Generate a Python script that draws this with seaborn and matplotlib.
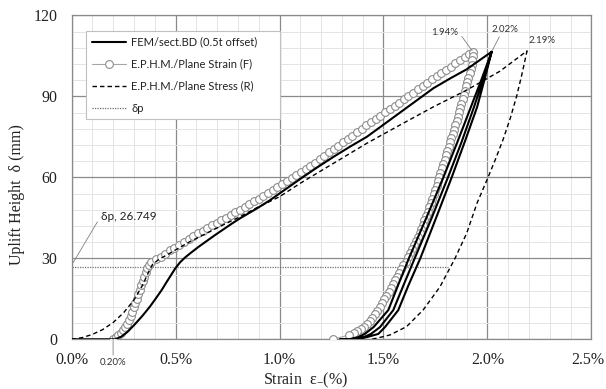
import matplotlib
matplotlib.use("Agg")
import matplotlib.pyplot as plt
from matplotlib.ticker import MultipleLocator
from matplotlib.transforms import ScaledTranslation
import seaborn as sns

# ---------------- data (strain in %, uplift height in mm) ----------------
series_labels = ["FEM/sect.BD (0.5t offset)", "E.P.H.M./Plane Strain (F)",
                 "E.P.H.M./Plane Stress (R)", "δp"]

# FEM: loading -> peak -> unload -> reload -> unload
fem_x = [0.00, 0.21, 0.24, 0.27, 0.305, 0.34, 0.377, 0.405, 0.434, 0.458, 0.482, 0.50,
         0.523, 0.546, 0.57, 0.61, 0.65, 0.69, 0.73, 0.77, 0.81, 0.85, 0.89, 0.95, 1.00,
         1.05, 1.10, 1.18, 1.26, 1.34, 1.42, 1.50, 1.58, 1.66, 1.74, 1.82, 1.90, 2.02,
         1.970, 1.920, 1.855, 1.788, 1.706, 1.622, 1.570, 1.523, 1.452, 1.410, 1.378, 1.340, 1.290,
         1.370, 1.420, 1.475, 1.507, 1.571, 1.620, 1.677, 1.753, 1.828, 1.890, 1.950, 1.985, 2.020,
         1.978, 1.935, 1.875, 1.810, 1.732, 1.650, 1.596, 1.547, 1.483, 1.440, 1.405, 1.370]
fem_y = [0.0, 0.0, 1.0, 2.8, 5.6, 8.6, 12.1, 15.1, 18.3, 21.3, 24.2, 26.4,
         28.6, 30.3, 31.8, 34.2, 36.4, 38.6, 40.7, 42.8, 44.8, 46.6, 48.4, 51.3, 54.0,
         56.7, 59.4, 63.6, 67.6, 71.4, 75.0, 79.5, 84.0, 88.5, 93.0, 96.6, 100.0, 106.5,
         96.0, 86.0, 73.0, 60.0, 45.0, 30.0, 20.0, 10.8, 4.5, 2.0, 0.8, 0.1, 0.0,
         0.1, 0.8, 2.0, 4.5, 10.8, 20.0, 30.0, 45.0, 60.0, 73.0, 86.0, 96.0, 106.5,
         96.0, 86.0, 73.0, 60.0, 45.0, 30.0, 20.0, 10.8, 4.5, 2.0, 0.8, 0.2]

# E.P.H.M. / Plane Strain (F): markers
ps_x = [0.200, 0.212, 0.224, 0.236, 0.248, 0.259, 0.269, 0.278, 0.286, 0.293, 0.300,
        0.307, 0.314, 0.321, 0.328, 0.335, 0.342, 0.349, 0.356, 0.363, 0.371, 0.382,
        0.405, 0.428, 0.450, 0.473, 0.495, 0.518, 0.540, 0.563, 0.585, 0.608, 0.630,
        0.653, 0.675, 0.698, 0.720, 0.743, 0.765, 0.788, 0.810, 0.833, 0.855, 0.878,
        0.900, 0.923, 0.945, 0.968, 0.990, 1.013, 1.035, 1.058, 1.080, 1.103, 1.125,
        1.148, 1.170, 1.193, 1.215, 1.238, 1.260, 1.283, 1.305, 1.328, 1.350, 1.373,
        1.395, 1.418, 1.440, 1.463, 1.485, 1.508, 1.530, 1.553, 1.575, 1.598, 1.620,
        1.643, 1.665, 1.688, 1.710, 1.733, 1.755, 1.778, 1.800, 1.823, 1.845, 1.868,
        1.890, 1.913, 1.930,
        1.928, 1.926, 1.924, 1.919, 1.914, 1.908, 1.903, 1.897, 1.892, 1.886, 1.881,
        1.875, 1.869, 1.863, 1.857, 1.851, 1.845, 1.839, 1.833, 1.826, 1.820, 1.813,
        1.807, 1.800, 1.794, 1.787, 1.781, 1.774, 1.768, 1.761, 1.755, 1.748, 1.742,
        1.735, 1.728, 1.720, 1.713, 1.705, 1.697, 1.690, 1.682, 1.675, 1.665, 1.655,
        1.646, 1.636, 1.626, 1.616, 1.606, 1.596, 1.586, 1.576, 1.566, 1.556, 1.546,
        1.536, 1.525, 1.514, 1.504, 1.492, 1.481, 1.469, 1.458, 1.445, 1.433, 1.421,
        1.406, 1.390, 1.374, 1.360, 1.335, 1.257]
ps_y = [0.0, 0.8, 1.6, 2.5, 3.4, 4.4, 5.6, 7.0, 8.6, 10.2, 11.8,
        13.4, 15.0, 16.7, 18.3, 20.0, 21.6, 23.2, 24.8, 26.3, 27.5, 28.5,
        29.6, 30.6, 31.7, 32.9, 34.0, 35.1, 36.1, 37.1, 38.1, 39.2, 40.2,
        41.2, 42.2, 43.1, 44.1, 45.1, 46.0, 47.0, 48.0, 49.0, 50.0, 51.1,
        52.1, 53.1, 54.1, 55.2, 56.3, 57.4, 58.5, 59.6, 60.7, 61.9, 63.0,
        64.2, 65.4, 66.7, 67.9, 69.2, 70.4, 71.7, 72.9, 74.2, 75.4, 76.7,
        77.9, 79.2, 80.4, 81.6, 82.8, 84.1, 85.3, 86.5, 87.7, 89.0, 90.2,
        91.4, 92.6, 93.9, 95.1, 96.3, 97.5, 98.7, 99.8, 101.0, 102.2, 103.4,
        104.5, 105.7, 106.5,
        104.9, 103.3, 101.7, 100.1, 98.5, 96.9, 95.3, 93.7, 92.1, 90.5, 88.9,
        87.3, 85.7, 84.1, 82.5, 80.9, 79.3, 77.7, 76.1, 74.5, 72.9, 71.3,
        69.7, 68.1, 66.5, 64.9, 63.3, 61.7, 60.1, 58.5, 56.9, 55.3, 53.7,
        52.1, 50.5, 48.9, 47.3, 45.7, 44.1, 42.5, 40.9, 39.3, 37.8, 36.3,
        34.8, 33.3, 31.8, 30.3, 28.8, 27.4, 26.0, 24.6, 23.2, 21.8, 20.4,
        19.0, 17.6, 16.2, 14.8, 13.4, 12.0, 10.6, 9.3, 8.0, 6.8, 5.6,
        4.6, 3.7, 2.9, 2.3, 1.6, 0.0]

# E.P.H.M. / Plane Stress (R)
pst_x = [0.00, 0.05, 0.10, 0.15, 0.20, 0.25, 0.30, 0.34, 0.37, 0.39, 0.42, 0.46, 0.50,
         0.57, 0.65, 0.73, 0.81, 0.89, 1.00, 1.10, 1.26, 1.42, 1.58, 1.74, 1.90, 2.06, 2.19,
         2.165, 2.140, 2.110, 2.075, 2.040, 2.000, 1.950, 1.900, 1.844, 1.772, 1.691, 1.611,
         1.531, 1.467, 1.44]
pst_y = [0.0, 0.6, 1.8, 3.6, 6.2, 9.8, 14.5, 19.8, 24.8, 27.8, 29.6, 31.3, 33.1,
         36.2, 39.3, 42.4, 45.4, 48.7, 52.8, 57.8, 65.2, 72.6, 79.4, 86.1, 92.3, 99.3, 106.8,
         98.0, 90.0, 82.0, 74.0, 67.0, 59.5, 50.5, 39.3, 30.0, 19.5, 10.9, 4.7,
         1.6, 0.4, 0.0]

# delta_p line
dp_value = 26.749
dp_x = [0.0, 1.81]

# annotations
peak_fem = (2.02, 106.5)
peak_ps = (1.93, 106.5)
peak_pst = (2.19, 106.8)
start_ps = (0.20, 0.0)

xticks = [0.0, 0.5, 1.0, 1.5, 2.0, 2.5]
xtick_labels = ["0.0%", "0.5%", "1.0%", "1.5%", "2.0%", "2.5%"]
yticks = [0, 30, 60, 90, 120]
ytick_labels = ["0", "30", "60", "90", "120"]

# ---------------- style ----------------
sns.set_style("white")
plt.rcParams["font.family"] = ["Liberation Serif", "DejaVu Serif"]
plt.rcParams["mathtext.fontset"] = "custom"
plt.rcParams["mathtext.rm"] = "Liberation Serif"
plt.rcParams["mathtext.default"] = "regular"
SANS = ["Lato", "DejaVu Sans"]

W, H = 606, 389
fig = plt.figure(figsize=(W / 100, H / 100), dpi=100)
L, R, T, B = 71.5, 591.5, 15.3, 339.3
ax = fig.add_axes([L / W, 1 - B / H, (R - L) / W, (B - T) / H])

sns.lineplot(x=fem_x, y=fem_y, sort=False, estimator=None, color="black",
             linewidth=1.5, ax=ax, label=series_labels[0], zorder=4)
sns.lineplot(x=ps_x, y=ps_y, sort=False, estimator=None, color="#a6a6a6",
             linewidth=0.8, marker="o", markersize=5.6, markerfacecolor="white",
             markeredgecolor="#8c8c8c", markeredgewidth=0.8, ax=ax,
             label=series_labels[1], zorder=3)
sns.lineplot(x=pst_x, y=pst_y, sort=False, estimator=None, color="black",
             linewidth=1.0, linestyle=(0, (3.2, 2.2)), ax=ax,
             label=series_labels[2], zorder=3.5)
sns.lineplot(x=dp_x, y=[dp_value] * len(dp_x), sort=False, estimator=None,
             color="#707070", linewidth=0.9, linestyle=(0, (1, 1)), ax=ax,
             label=series_labels[3], zorder=2.5)

ax.set_xlim(0, 2.5)
ax.set_ylim(0, 120)
ax.set_xticks(xticks)
ax.set_xticklabels(xtick_labels)
ax.set_yticks(yticks)
ax.set_yticklabels(ytick_labels)
ax.xaxis.set_minor_locator(MultipleLocator(0.1))
ax.yaxis.set_minor_locator(MultipleLocator(6))
ax.grid(which="major", color="#8a8a8a", linewidth=0.9)
ax.grid(which="minor", color="#e4e4e4", linewidth=0.7)
ax.set_axisbelow(True)
ax.tick_params(which="both", length=0)
ax.tick_params(axis="x", pad=9, labelsize=11.5, colors="#222222")
ax.tick_params(axis="y", pad=10, labelsize=11.5, colors="#222222")
for s in ax.spines.values():
    s.set_visible(True)
    s.set_color("#8a8a8a")
    s.set_linewidth(0.9)
ax.set_xlabel("")
ax.set_ylabel("")

# keep the last x tick label inside the canvas
last = ax.xaxis.get_major_ticks()[-1].label1
last.set_transform(last.get_transform() + ScaledTranslation(-3 / 72, 0, fig.dpi_scale_trans))

fig.text(17 / W, 1 - 195 / H, "Uplift Height  δ (mm)", rotation=90,
         ha="center", va="center", fontsize=11.5, color="#222222")
fig.text(306 / W, 1 - 384.5 / H, "Strain  ε$_{-}$(%)", ha="center",
         va="baseline", fontsize=11.5, color="#222222")

handles, labels = ax.get_legend_handles_labels()
leg = ax.legend(handles, labels, loc="upper left",
                bbox_to_anchor=(0.028, 0.9515 - 0.27, 0.373, 0.27), mode="expand",
                borderaxespad=0, frameon=True, fancybox=False, framealpha=1,
                edgecolor="#c0c0c0", prop={"family": SANS, "size": 8},
                handlelength=3.1, handletextpad=0.45, labelspacing=1.0,
                borderpad=0.5, numpoints=1)
leg.get_frame().set_linewidth(0.8)
for t in leg.get_texts():
    t.set_color("#222222")

ann_kw = dict(fontsize=7, family=SANS, color="#333333")
arrow = dict(arrowstyle="-", color="#808080", lw=0.6, shrinkA=0, shrinkB=1)
ax.annotate("δp, 26.749", xy=(0.005, 28.0), xytext=(0.14, 45.5), ha="left",
            va="center", fontsize=8.5, family=SANS, color="#222222",
            arrowprops=dict(arrow, relpos=(0, 0.5)))
ax.annotate("0.20%", xy=start_ps, xytext=(0, -17), textcoords="offset points",
            ha="center", va="center", annotation_clip=False, **ann_kw,
            arrowprops=dict(arrow, relpos=(0.5, 1)))
ax.annotate("1.94%", xy=peak_ps, xytext=(1.796, 113.8), ha="center", va="center",
            annotation_clip=False, **ann_kw,
            arrowprops=dict(arrow, relpos=(1, 0.5)))
ax.annotate("2.02%", xy=peak_fem, xytext=(2.084, 114.9), ha="center", va="center",
            annotation_clip=False, **ann_kw,
            arrowprops=dict(arrow, relpos=(0.35, 0)))
ax.annotate("2.19%", xy=peak_pst, xytext=(2.262, 110.5), ha="center", va="center",
            annotation_clip=False, **ann_kw)

fig.savefig("out.png", dpi=100)
